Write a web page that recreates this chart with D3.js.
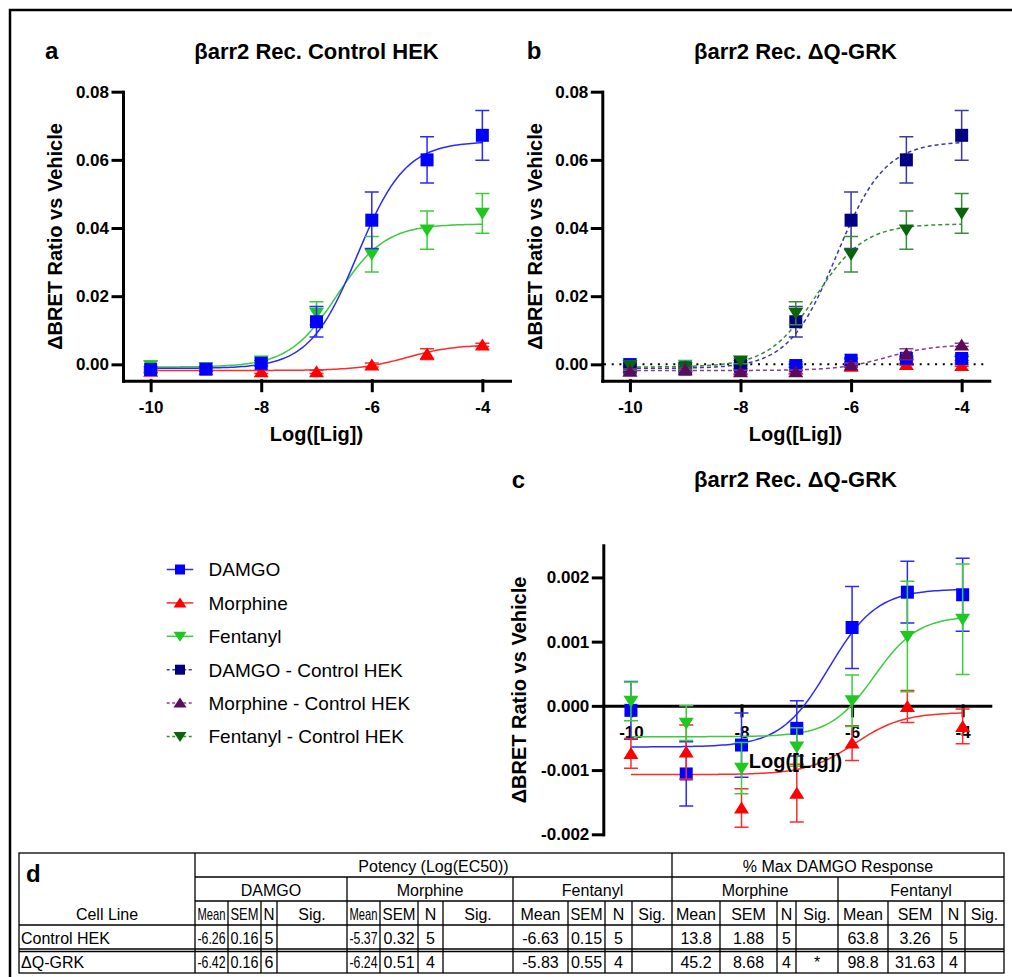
<!DOCTYPE html>
<html>
<head>
<meta charset="utf-8">
<script src="https://cdn.jsdelivr.net/npm/d3@7"></script>
<style>body{margin:0;background:#fff}</style>
</head>
<body>
<script>
// ---- data ----
const doses = [-10, -9, -8, -7, -6, -5, -4];
const doseTicks = [-10, -8, -6, -4];

// Control HEK (panel a, dashed in panel b)
const ctlDamgo    = [-0.0015, -0.0014, 0.0003, 0.0125, 0.0423, 0.0600, 0.0672];
const ctlDamgoSem = [0.0008, 0.0006, 0.0008, 0.0045, 0.0083, 0.0068, 0.0073];
const ctlMorph    = [-0.0020, -0.0016, -0.0022, -0.0022, -0.0002, 0.0030, 0.0057];
const ctlMorphSem = [0.0006, 0.0005, 0.0005, 0.0005, 0.0006, 0.0016, 0.0005];
const ctlFent     = [-0.0004, -0.0010, 0.0010, 0.0150, 0.0323, 0.0394, 0.0443];
const ctlFentSem  = [0.0014, 0.0006, 0.0008, 0.0034, 0.0052, 0.0056, 0.0058];

// dQ-GRK (panel c, markers in panel b)
const qDamgo    = [-0.00007, -0.00106, -0.00061, -0.00035, 0.00122, 0.00177, 0.00173];
const qDamgoSem = [0.00045, 0.0005, 0.0005, 0.00043, 0.00064, 0.00048, 0.00057];
const qMorph    = [-0.00074, -0.00072, -0.00159, -0.00136, -0.00058, -0.00001, -0.00032];
const qMorphSem = [0.00023, 0.00042, 0.0003, 0.00045, 0.00027, 0.00025, 0.00027];
const qFent     = [0.00007, -0.00027, -0.00097, -0.00064, 0.00008, 0.00108, 0.00135];
const qFentSem  = [0.0003, 0.00027, 0.0004, 0.0003, 0.0004, 0.00086, 0.00086];

// fitted curve parameters, order DAMGO, Morphine, Fentanyl
const ctlBottom = [-0.0012, -0.0018, -0.0008];
const ctlTop    = [0.0654, 0.0058, 0.0412];
const ctlEC50   = [-6.26, -5.37, -6.63];
const ctlHill   = [1, 1, 1];
const qBottom = [-0.00064, -0.00107, -0.00048];
const qTop    = [0.00182, -0.0001, 0.0014];
const qEC50   = [-6.42, -5.95, -5.6];
const qHill   = [1, 1, 1.1];

const legendNames = ["DAMGO", "Morphine", "Fentanyl", "DAMGO - Control HEK", "Morphine - Control HEK", "Fentanyl - Control HEK"];

// table d
const tblGroups = ["DAMGO", "Morphine", "Fentanyl", "Morphine", "Fentanyl"];
const tblSub = ["Mean", "SEM", "N", "Sig."];
const tblRowNames = ["Control HEK", "\u0394Q-GRK"];
const tblControl = ["-6.26", "0.16", "5", "", "-5.37", "0.32", "5", "", "-6.63", "0.15", "5", "", "13.8", "1.88", "5", "", "63.8", "3.26", "5", ""];
const tblDQ      = ["-6.42", "0.16", "6", "", "-6.24", "0.51", "4", "", "-5.83", "0.55", "4", "", "45.2", "8.68", "4", "*", "98.8", "31.63", "4", ""];

// ---- setup ----
const FONT = "'Liberation Sans', Arial, Helvetica, sans-serif";
const svg = d3.select("body").append("svg")
    .attr("width", 1012).attr("height", 977)
    .style("font-family", FONT);

// figure frame
svg.append("path").attr("d", "M10,977V10H1012")
    .attr("fill", "none").attr("stroke", "#000").attr("stroke-width", 2.5);

const minus = s => s.replace("\u2212", "-");
const shapes = {
    square: d3.symbol(d3.symbolSquare, 169)(),
    up: "M0,-6.5L7.5,5.5L-7.5,5.5Z",
    down: "M0,6.5L7.5,-5.5L-7.5,-5.5Z"
};
const smallShapes = {
    square: d3.symbol(d3.symbolSquare, 100)(),
    up: "M0,-5.5L6.5,4.5L-6.5,4.5Z",
    down: "M0,5.5L6.5,-4.5L-6.5,-4.5Z"
};

function text(x, y, s, size, weight, anchor) {
    return svg.append("text").attr("x", x).attr("y", y).text(s)
        .attr("font-size", size).attr("font-weight", weight || "normal")
        .attr("text-anchor", anchor || "start").attr("fill", "#000");
}

function axes(x, y, yTicks, yFmt, xAxisY) {
    const ya = svg.append("g").attr("transform", `translate(${x.range()[0]},0)`)
        .call(d3.axisLeft(y).tickValues(yTicks).tickFormat(v => minus(d3.format(yFmt)(v)))
            .tickSize(10).tickSizeOuter(0).tickPadding(4));
    const xa = svg.append("g").attr("transform", `translate(0,${xAxisY})`)
        .call(d3.axisBottom(x).tickValues(doseTicks).tickFormat(v => minus(String(v)))
            .tickSize(10).tickSizeOuter(0).tickPadding(10));
    [ya, xa].forEach(a => {
        a.attr("font-family", FONT).attr("font-size", 17).attr("font-weight", "bold");
        a.selectAll(".domain, .tick line").attr("stroke", "#000").attr("stroke-width", 3)
            .attr("stroke-linecap", "square");
        a.selectAll("text").attr("fill", "#000");
    });
}

function fit(x, y, b, t, ec, h, color, dash) {
    const xs = d3.range(-10, -3.999, 0.05);
    const f = v => b + (t - b) / (1 + Math.pow(10, (ec - v) * h));
    svg.append("path")
        .attr("d", d3.line().x(v => x(v)).y(v => y(f(v)))(xs))
        .attr("fill", "none").attr("stroke", color).attr("stroke-width", 1.5)
        .attr("stroke-dasharray", dash || null);
}

function series(x, y, means, sems, shape, color, errColor) {
    const g = svg.append("g");
    g.selectAll("path.err").data(means).join("path").attr("class", "err")
        .attr("d", (m, i) => {
            const cx = x(doses[i]), lo = y(m - sems[i]), hi = y(m + sems[i]);
            return `M${cx},${lo}V${hi}M${cx - 7},${hi}H${cx + 7}M${cx - 7},${lo}H${cx + 7}`;
        })
        .attr("fill", "none").attr("stroke", errColor).attr("stroke-width", 1.5);
    g.selectAll("path.mk").data(means).join("path").attr("class", "mk")
        .attr("transform", (m, i) => `translate(${x(doses[i])},${y(m)})`)
        .attr("d", shapes[shape]).attr("fill", color);
}

const C = {
    blue: "#0000ff", blueL: "#2a2aff",
    red: "#ff0000", redL: "#ff2a2a",
    green: "#1ec81e", greenL: "#3ccc3c",
    navy: "#000080", navyL: "#3a3aa4",
    purple: "#5c0a5c", purpleL: "#8c3c8c",
    dgreen: "#0a640a", dgreenL: "#3a8c3a"
};

const xDomain = [-10.5, -3.5];

// ---- panel a ----
const xa = d3.scaleLinear().domain(xDomain).range([123, 510]);
const ya = d3.scaleLinear().domain([-0.0048, 0.08]).range([380.7, 91.7]);
axes(xa, ya, [0, 0.02, 0.04, 0.06, 0.08], ".2f", 380.7);
fit(xa, ya, ctlBottom[1], ctlTop[1], ctlEC50[1], ctlHill[1], C.redL);
fit(xa, ya, ctlBottom[2], ctlTop[2], ctlEC50[2], ctlHill[2], C.greenL);
fit(xa, ya, ctlBottom[0], ctlTop[0], ctlEC50[0], ctlHill[0], C.blueL);
series(xa, ya, ctlMorph, ctlMorphSem, "up", C.red, C.redL);
series(xa, ya, ctlFent, ctlFentSem, "down", C.green, C.greenL);
series(xa, ya, ctlDamgo, ctlDamgoSem, "square", C.blue, C.blueL);
text(45, 59.3, "a", 24, "bold");
text(316.5, 59.3, "\u03b2arr2 Rec. Control HEK", 22, "bold", "middle");
text(316.5, 440.5, "Log([Lig])", 20, "bold", "middle");
text(0, 0, "\u0394BRET Ratio vs Vehicle", 20, "bold", "middle")
    .attr("transform", "translate(62,236.5) rotate(-90)");

// ---- panel b ----
const xb = d3.scaleLinear().domain(xDomain).range([602.3, 989.3]);
const yb = d3.scaleLinear().domain([-0.0048, 0.08]).range([380.7, 91.7]);
axes(xb, yb, [0, 0.02, 0.04, 0.06, 0.08], ".2f", 380.7);
svg.append("line").attr("x1", 604).attr("x2", 989).attr("y1", yb(0)).attr("y2", yb(0))
    .attr("stroke", "#000").attr("stroke-width", 2).attr("stroke-dasharray", "2,5.7");
series(xb, yb, qFent, qFentSem, "down", C.green, C.greenL);
series(xb, yb, qMorph, qMorphSem, "up", C.red, C.redL);
series(xb, yb, qDamgo, qDamgoSem, "square", C.blue, C.blueL);
fit(xb, yb, ctlBottom[0], ctlTop[0], ctlEC50[0], ctlHill[0], C.navyL, "4,3");
fit(xb, yb, ctlBottom[2], ctlTop[2], ctlEC50[2], ctlHill[2], C.dgreenL, "4,3");
fit(xb, yb, ctlBottom[1], ctlTop[1], ctlEC50[1], ctlHill[1], C.purpleL, "4,3");
series(xb, yb, ctlDamgo, ctlDamgoSem, "square", C.navy, C.navyL);
series(xb, yb, ctlFent, ctlFentSem, "down", C.dgreen, C.dgreenL);
series(xb, yb, ctlMorph, ctlMorphSem, "up", C.purple, C.purpleL);
text(526.7, 59.3, "b", 24, "bold");
text(795.5, 59.3, "\u03b2arr2 Rec. \u0394Q-GRK", 22, "bold", "middle");
text(795.5, 440.5, "Log([Lig])", 20, "bold", "middle");
text(0, 0, "\u0394BRET Ratio vs Vehicle", 20, "bold", "middle")
    .attr("transform", "translate(541.5,236.5) rotate(-90)");

// ---- panel c ----
const xc = d3.scaleLinear().domain(xDomain).range([603.3, 990.3]);
const yc = d3.scaleLinear().domain([-0.002, 0.0025]).range([834.3, 545.3]);
axes(xc, yc, [-0.002, -0.001, 0, 0.001, 0.002], ".3f", yc(0));
fit(xc, yc, qBottom[0], qTop[0], qEC50[0], qHill[0], C.blueL);
fit(xc, yc, qBottom[1], qTop[1], qEC50[1], qHill[1], C.redL);
fit(xc, yc, qBottom[2], qTop[2], qEC50[2], qHill[2], C.greenL);
series(xc, yc, qDamgo, qDamgoSem, "square", C.blue, C.blueL);
series(xc, yc, qMorph, qMorphSem, "up", C.red, C.redL);
series(xc, yc, qFent, qFentSem, "down", C.green, C.greenL);
text(511.7, 488.3, "c", 24, "bold");
text(795.5, 486.7, "\u03b2arr2 Rec. \u0394Q-GRK", 22, "bold", "middle");
text(795.5, 768.3, "Log([Lig])", 20, "bold", "middle");
text(0, 0, "\u0394BRET Ratio vs Vehicle", 20, "bold", "middle")
    .attr("transform", "translate(526,690) rotate(-90)");

// ---- legend ----
const legShape = ["square", "up", "down", "square", "up", "down"];
const legColor = [C.blue, C.red, C.green, C.navy, C.purple, C.dgreen];
const legLine = [C.blueL, C.redL, C.greenL, C.navyL, C.purpleL, C.dgreenL];
const legY = d3.scaleLinear().domain([0, 5]).range([569.5, 736.5]);
legendNames.forEach((name, i) => {
    const cy = legY(i);
    svg.append("line").attr("x1", 166.7).attr("x2", 193.3).attr("y1", cy).attr("y2", cy)
        .attr("stroke", legLine[i]).attr("stroke-width", 1.5)
        .attr("stroke-dasharray", i > 2 ? "3,2.5" : null);
    svg.append("path").attr("transform", `translate(180,${cy})`)
        .attr("d", smallShapes[legShape[i]]).attr("fill", legColor[i]);
    text(208.5, cy + 6.8, name, 19);
});

// ---- table d ----
const colX = [19, 195, 228, 261, 277, 347, 380, 418, 443, 513, 568, 605, 632, 672, 720, 777, 796, 838, 888, 942, 965, 1004];
const rowY = [853, 877, 901, 925, 949, 973];
const tl = svg.append("g").attr("stroke", "#000").attr("stroke-width", 1.3).attr("fill", "none");
tl.append("rect").attr("x", colX[0]).attr("y", rowY[0])
    .attr("width", colX[21] - colX[0]).attr("height", rowY[5] - rowY[0]);
[[1, 195], [2, 195], [3, 19], [4, 19]].forEach(([r, x0]) =>
    tl.append("line").attr("x1", x0).attr("x2", 1004).attr("y1", rowY[r]).attr("y2", rowY[r]));
tl.append("line").attr("x1", 19).attr("x2", 1004).attr("y1", rowY[4] + 2.5).attr("y2", rowY[4] + 2.5);
colX.slice(1, 21).forEach((x, i) => {
    const k = i + 1;
    const top = (k === 1 || k === 13) ? rowY[0] : ((k - 1) % 4 === 0 ? rowY[1] : rowY[2]);
    tl.append("line").attr("x1", x).attr("x2", x).attr("y1", top).attr("y2", rowY[5]);
});

// text squeezed horizontally when it is wider than its cell
function cell(x0, x1, rBottom, s, anchor) {
    if (!s) return;
    const left = anchor === "start";
    const t = svg.append("text").text(s).attr("font-size", 16).attr("fill", "#000")
        .attr("text-anchor", left ? "start" : "middle");
    const avail = x1 - x0 - 5;
    const w = t.node().getComputedTextLength();
    const k = w > avail ? avail / w : 1;
    t.attr("transform", `translate(${left ? x0 + 2 : (x0 + x1) / 2},${rBottom - 5}) scale(${k},1)`);
}
text(26, 882, "d", 24, "bold");
cell(colX[1], colX[13], rowY[1], "Potency (Log(EC50))");
cell(colX[13], colX[21], rowY[1], "% Max DAMGO Response");
tblGroups.forEach((g, i) => cell(colX[1 + 4 * i], colX[5 + 4 * i], rowY[2], g));
cell(colX[0], colX[1], rowY[3], "Cell Line");
for (let i = 0; i < 20; i++) cell(colX[1 + i], colX[2 + i], rowY[3], tblSub[i % 4]);
[tblControl, tblDQ].forEach((vals, r) => {
    cell(colX[0], colX[1], rowY[4 + r], tblRowNames[r], "start");
    vals.forEach((v, i) => cell(colX[1 + i], colX[2 + i], rowY[4 + r], v));
});
</script>
</body>
</html>
